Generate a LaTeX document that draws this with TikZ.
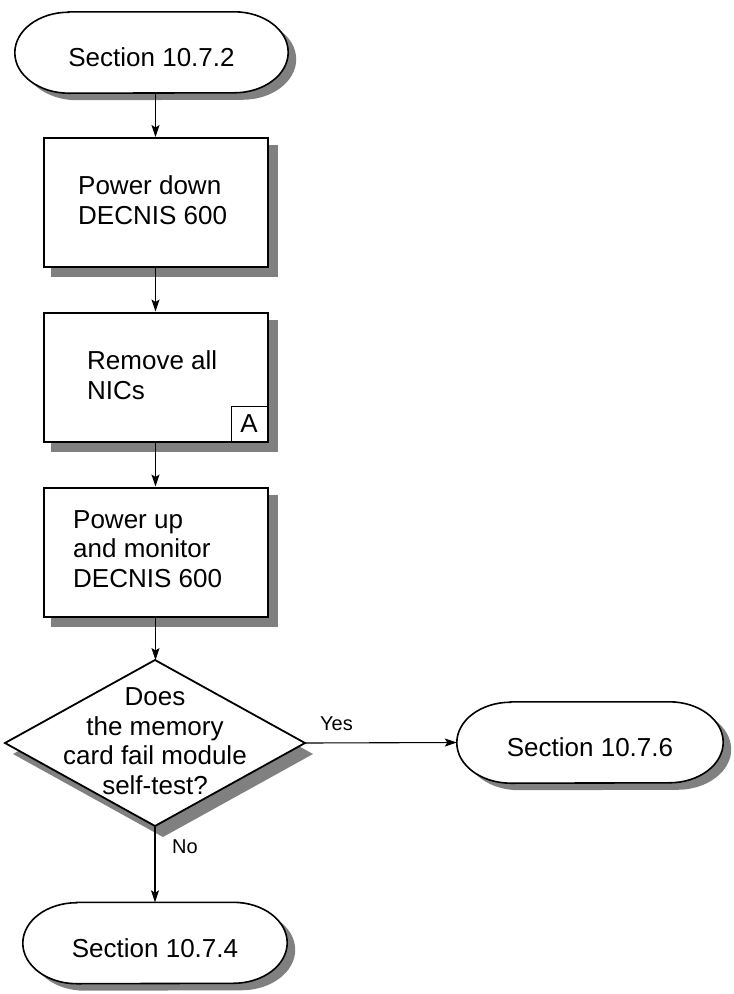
\documentclass[tikz,border=0pt]{standalone}
\usepackage{fontspec}
\setmainfont{Liberation Sans}
\usetikzlibrary{shapes.geometric,arrows.meta}
\definecolor{shadowgray}{HTML}{808080}
\pgfdeclarelayer{background}
\pgfsetlayers{background,main}
% terminal outline: #1 node, #2 path options, #3 dx, #4 dy
\newcommand\termpath[4]{%
  \path[#2] ([shift={(54pt+#3,#4)}]#1.north west)
    -- ([shift={(-54pt+#3,#4)}]#1.north east)
    arc[start angle=90,end angle=-90,x radius=54pt,y radius=40.5pt]
    -- ([shift={(54pt+#3,#4)}]#1.south west)
    arc[start angle=270,end angle=90,x radius=54pt,y radius=40.5pt]
    -- cycle;}
% box shadow
\newcommand\boxshadow[1]{%
  \fill[shadowgray] ([shift={(8pt,-9pt)}]#1.south west) rectangle ([shift={(9pt,-8pt)}]#1.north east);}
% diamond outline: #1 node, #2 options, #3 dx, #4 dy
\newcommand\diapath[4]{%
  \path[#2] ([shift={(#3,#4)}]#1.north) -- ([shift={(#3,#4)}]#1.east)
    -- ([shift={(#3,#4)}]#1.south) -- ([shift={(#3,#4)}]#1.west) -- cycle;}
\begin{document}
\begin{tikzpicture}[x=1pt,y=1pt,
  txt/.style={font=\fontsize{26}{29.5}\selectfont, inner sep=0pt},
  small/.style={font=\fontsize{20}{24}\selectfont, inner sep=0pt},
  term/.style={txt, minimum height=81pt, text height=28pt, text depth=0pt},
  stepbox/.style={draw, line width=2pt, fill=white, minimum width=224pt,
    minimum height=129pt, inner sep=0pt},
  decision/.style={shape=diamond, minimum width=300pt, minimum height=166pt,
    inner sep=0pt, outer sep=0pt},
  conn/.style={line width=1.1pt, -{Stealth[length=12pt,width=8pt,inset=2.5pt]}}
]
\useasboundingbox (0,0) rectangle (734,-994);

% terminals
\node[term, minimum width=273pt] (t1) at (151.5,-52.5) {Section 10.7.2};
\node[term, minimum width=266pt] (t2) at (590,-742.5) {Section 10.7.6};
\node[term, minimum width=264pt] (t3) at (155,-943) {Section 10.7.4};
\begin{pgfonlayer}{background}
  \termpath{t1}{fill=shadowgray}{8pt}{-7pt}
  \termpath{t1}{draw,fill=white,line width=1.6pt}{0pt}{0pt}
  \termpath{t2}{fill=shadowgray}{8pt}{-7pt}
  \termpath{t2}{draw,fill=white,line width=1.6pt}{0pt}{0pt}
  \termpath{t3}{fill=shadowgray}{8pt}{-7pt}
  \termpath{t3}{draw,fill=white,line width=1.6pt}{0pt}{0pt}
\end{pgfonlayer}

% process boxes
\node[stepbox] (b1) at (155.5,-202.5) {};
\node[txt, align=left, anchor=base west] (b1text) at (78,-224) {Power down\\DECNIS 600};

\node[stepbox] (b2) at (155.5,-377) {};
\node[txt, align=left, anchor=base west] (b2text) at (87,-399) {Remove all\\NICs};
\node[txt, draw, line width=0.8pt, minimum width=36pt, minimum height=35pt,
  anchor=south east] (refA) at ([shift={(-1pt,1pt)}]b2.south east) {A};

\node[stepbox] (b3) at (155.5,-552) {};
\node[txt, align=left, anchor=base west] (b3text) at (73,-587) {Power up\\and monitor\\DECNIS 600};

\begin{pgfonlayer}{background}
  \boxshadow{b1}
  \boxshadow{b2}
  \boxshadow{b3}
\end{pgfonlayer}

% decision
\node[decision] (d) at (155,-743) {};
\begin{pgfonlayer}{background}
  \diapath{d}{fill=shadowgray}{8pt}{-11pt}
  \diapath{d}{draw,fill=white,line width=1.8pt,line join=miter}{0pt}{0pt}
\end{pgfonlayer}
\node[txt, align=center, anchor=base] (dtext) at (155,-794)
  {Does\\the memory\\card fail module\\self-test?};

% connectors
\draw[conn] (t1.south -| b1.north) -- (b1.north);
\draw[conn] (b1.south) -- (b2.north);
\draw[conn] (b2.south) -- (b3.north);
\draw[conn] (b3.south) -- (b3.south |- d.north);
\draw[conn] (d.east) -- (t2.west);
\draw[conn] (d.south) -- (d.south |- t3.north);

\node[small, anchor=base west] (yes) at (320,-730) {Yes};
\node[small, anchor=base west] (no) at (172,-853) {No};
\end{tikzpicture}
\end{document}
